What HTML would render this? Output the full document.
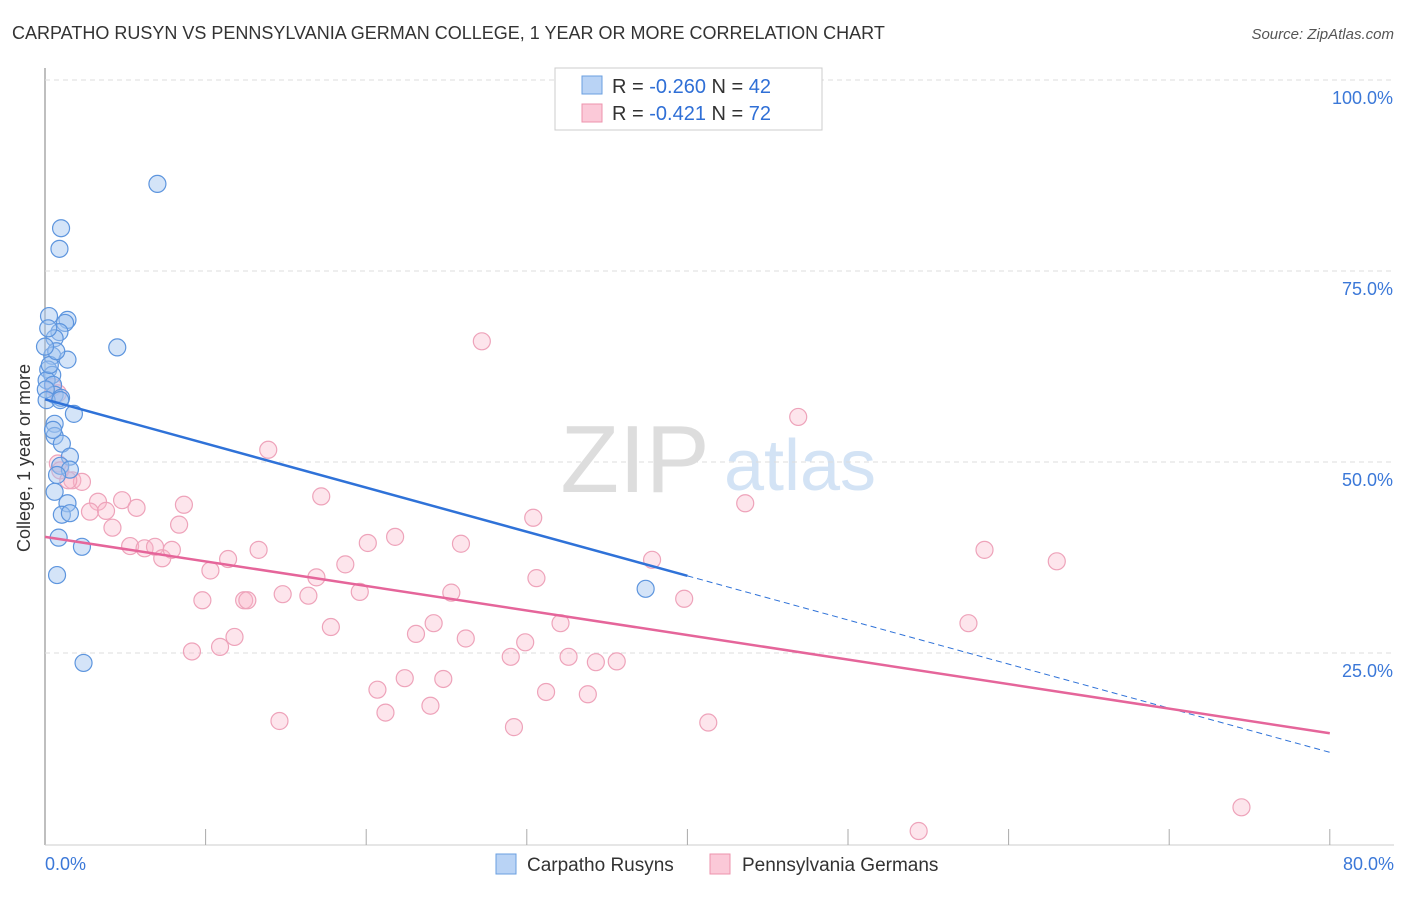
<!DOCTYPE html>
<html><head><meta charset="utf-8"><style>
body{margin:0;background:#fff;font-family:"Liberation Sans",sans-serif;}
svg text{font-family:"Liberation Sans",sans-serif;}
</style></head><body>
<svg id="c" width="1406" height="892">
<text x="12" y="39" font-size="18" fill="#333">CARPATHO RUSYN VS PENNSYLVANIA GERMAN COLLEGE, 1 YEAR OR MORE CORRELATION CHART</text>
<text x="1394" y="39" font-size="15" fill="#555" font-style="italic" text-anchor="end">Source: ZipAtlas.com</text>
<text x="30" y="458" font-size="18" fill="#333" text-anchor="middle" transform="rotate(-90 30 458)">College, 1 year or more</text>
<text x="635" y="492" font-size="96" fill="#ddd" font-family="Liberation Serif" text-anchor="middle">ZIP</text>
<text x="800" y="490" font-size="72" fill="#d3e3f5" text-anchor="middle">atlas</text>
<g id="grid"></g><g id="marks"></g>
<g>
<rect x="555" y="68" width="267" height="62" fill="#fff" stroke="#ccc"/>
<rect x="582" y="76" width="20" height="18" fill="#b9d3f5" stroke="#6a9fe0"/>
<rect x="582" y="104" width="20" height="18" fill="#fbc9d8" stroke="#ee93ad"/>
<text x="612" y="93" font-size="20" fill="#333">R = <tspan fill="#2f6fd6">-0.260</tspan>   N = <tspan fill="#2f6fd6">42</tspan></text>
<text x="612" y="120" font-size="20" fill="#333">R =  <tspan fill="#2f6fd6">-0.421</tspan>   N = <tspan fill="#2f6fd6">72</tspan></text>
</g>
<g>
<rect x="496" y="854" width="20" height="20" fill="#b9d3f5" stroke="#6a9fe0"/>
<text x="527" y="871" font-size="19" fill="#333">Carpatho Rusyns</text>
<rect x="710" y="854" width="20" height="20" fill="#fbc9d8" stroke="#ee93ad"/>
<text x="742" y="871" font-size="19" fill="#333">Pennsylvania Germans</text>
</g>
</svg>
<script>
const xTicks=[0,10,20,30,40,50,60,70,80];
const yTicks=[25,50,75,100];
const bluePts=[[7,86.4],[1,80.6],[0.9,77.9],[0.25,69.1],[1.4,68.6],[1.25,68.2],[0.9,67.0],[0.6,66.2],[4.5,65.0],[0.45,63.9],[1.4,63.4],[0.2,62.1],[0.45,61.4],[0.1,60.7],[0.5,60.1],[0.6,58.8],[1,58.4],[1.8,56.3],[0.6,55.0],[0.6,53.4],[1.05,52.4],[1.55,50.7],[0.95,49.5],[1.55,49.0],[0.75,48.3],[0.6,46.1],[1.4,44.6],[1.05,43.1],[1.55,43.3],[0.85,40.1],[2.3,38.9],[0.75,35.2],[2.4,23.7],[37.4,33.4],[0.2,67.5],[0.3,62.7],[0.05,59.5],[0.5,54.2],[0.1,58.1],[0.7,64.5],[0.95,58.1],[0,65.1]];
const pinkPts=[[27.2,65.8],[46.9,55.9],[13.9,51.6],[0.8,59.0],[0.5,59.8],[0.8,49.8],[0.95,48.9],[1.7,47.6],[2.3,47.4],[1.45,47.6],[3.3,44.8],[2.8,43.5],[3.8,43.6],[4.2,41.4],[4.8,45.0],[5.7,44.0],[5.3,39.0],[6.2,38.7],[6.85,38.9],[7.3,37.4],[7.9,38.5],[8.35,41.8],[8.65,44.4],[10.3,35.8],[9.8,31.9],[9.15,25.2],[10.9,25.8],[11.8,27.1],[11.4,37.3],[13.3,38.5],[12.4,31.9],[12.6,31.9],[14.8,32.7],[16.4,32.5],[16.9,34.9],[17.2,45.5],[17.8,28.4],[18.7,36.6],[19.6,33.0],[20.1,39.4],[21.8,40.2],[20.7,20.2],[21.2,17.2],[22.4,21.7],[23.1,27.5],[24,18.1],[24.2,28.9],[24.8,21.6],[25.3,32.9],[25.9,39.3],[26.2,26.9],[29,24.5],[29.2,15.3],[29.9,26.4],[30.4,42.7],[30.6,34.8],[31.2,19.9],[32.1,28.9],[32.6,24.5],[33.8,19.6],[34.3,23.8],[35.6,23.9],[37.8,37.2],[39.8,32.1],[41.3,15.9],[43.6,44.6],[54.4,1.7],[57.5,28.9],[58.5,38.5],[63,37.0],[74.5,4.8],[14.6,16.1]];
const blueFit=[58.2,12.0], blueEnd=40;
const pinkFit=[40.2,14.5];
const X=v=>45+v*16.06, Y=v=>844-v*7.64;
const NS="http://www.w3.org/2000/svg";
function mk(t,a,p){const e=document.createElementNS(NS,t);for(const k in a)e.setAttribute(k,a[k]);p.appendChild(e);return e;}
const g=document.getElementById('grid'), m=document.getElementById('marks');
const ax=mk('line',{x1:45,y1:68,x2:45,y2:845,stroke:'#aaa','stroke-width':1.5},g);


const bx=mk('line',{x1:45,y1:845,x2:1394,y2:845,stroke:'#ccc'},g);


yTicks.forEach(v=>{
 const l=mk('line',{x1:45,y1:Y(v),x2:1394,y2:Y(v),stroke:'#ddd','stroke-dasharray':'5,4'},g);
 
 
 const t=mk('text',{x:1393,y:Y(v)+24,'font-size':18,fill:'#3b78d8','text-anchor':'end'},g);
 t.textContent=v.toFixed(1)+'%';
 
 
});
xTicks.forEach(v=>{
 if(v>0){const l=mk('line',{x1:X(v),y1:829,x2:X(v),y2:845,stroke:'#aaa'},g);
 
 }
});
[[0,'0.0%','start',45],[80,'80.0%','end',1394]].forEach(d=>{
 const t=mk('text',{x:d[3],y:870,'font-size':18,fill:'#3b78d8','text-anchor':d[2]},g);
 t.textContent=d[1];
 
 
});
pinkPts.forEach(p=>{
 const c=mk('circle',{cx:X(p[0]),cy:Y(p[1]),r:8.5,fill:'rgba(248,180,200,0.35)',stroke:'#eea3ba','stroke-width':1.2},m);
 
 
});
bluePts.forEach(p=>{
 const c=mk('circle',{cx:X(p[0]),cy:Y(p[1]),r:8.5,fill:'rgba(160,195,240,0.45)',stroke:'#5d95de','stroke-width':1.2},m);
 
 
});
const bf=v=>blueFit[0]+(blueFit[1]-blueFit[0])*v/80;
let l=mk('line',{x1:X(0),y1:Y(bf(0)),x2:X(blueEnd),y2:Y(bf(blueEnd)),stroke:'#2f72d8','stroke-width':2.5},m);


l=mk('line',{x1:X(blueEnd),y1:Y(bf(blueEnd)),x2:X(80),y2:Y(bf(80)),stroke:'#2f72d8','stroke-width':1,'stroke-dasharray':'6,4'},m);


l=mk('line',{x1:X(0),y1:Y(pinkFit[0]),x2:X(80),y2:Y(pinkFit[1]),stroke:'#e5659a','stroke-width':2.5},m);


</script>
</body></html>
